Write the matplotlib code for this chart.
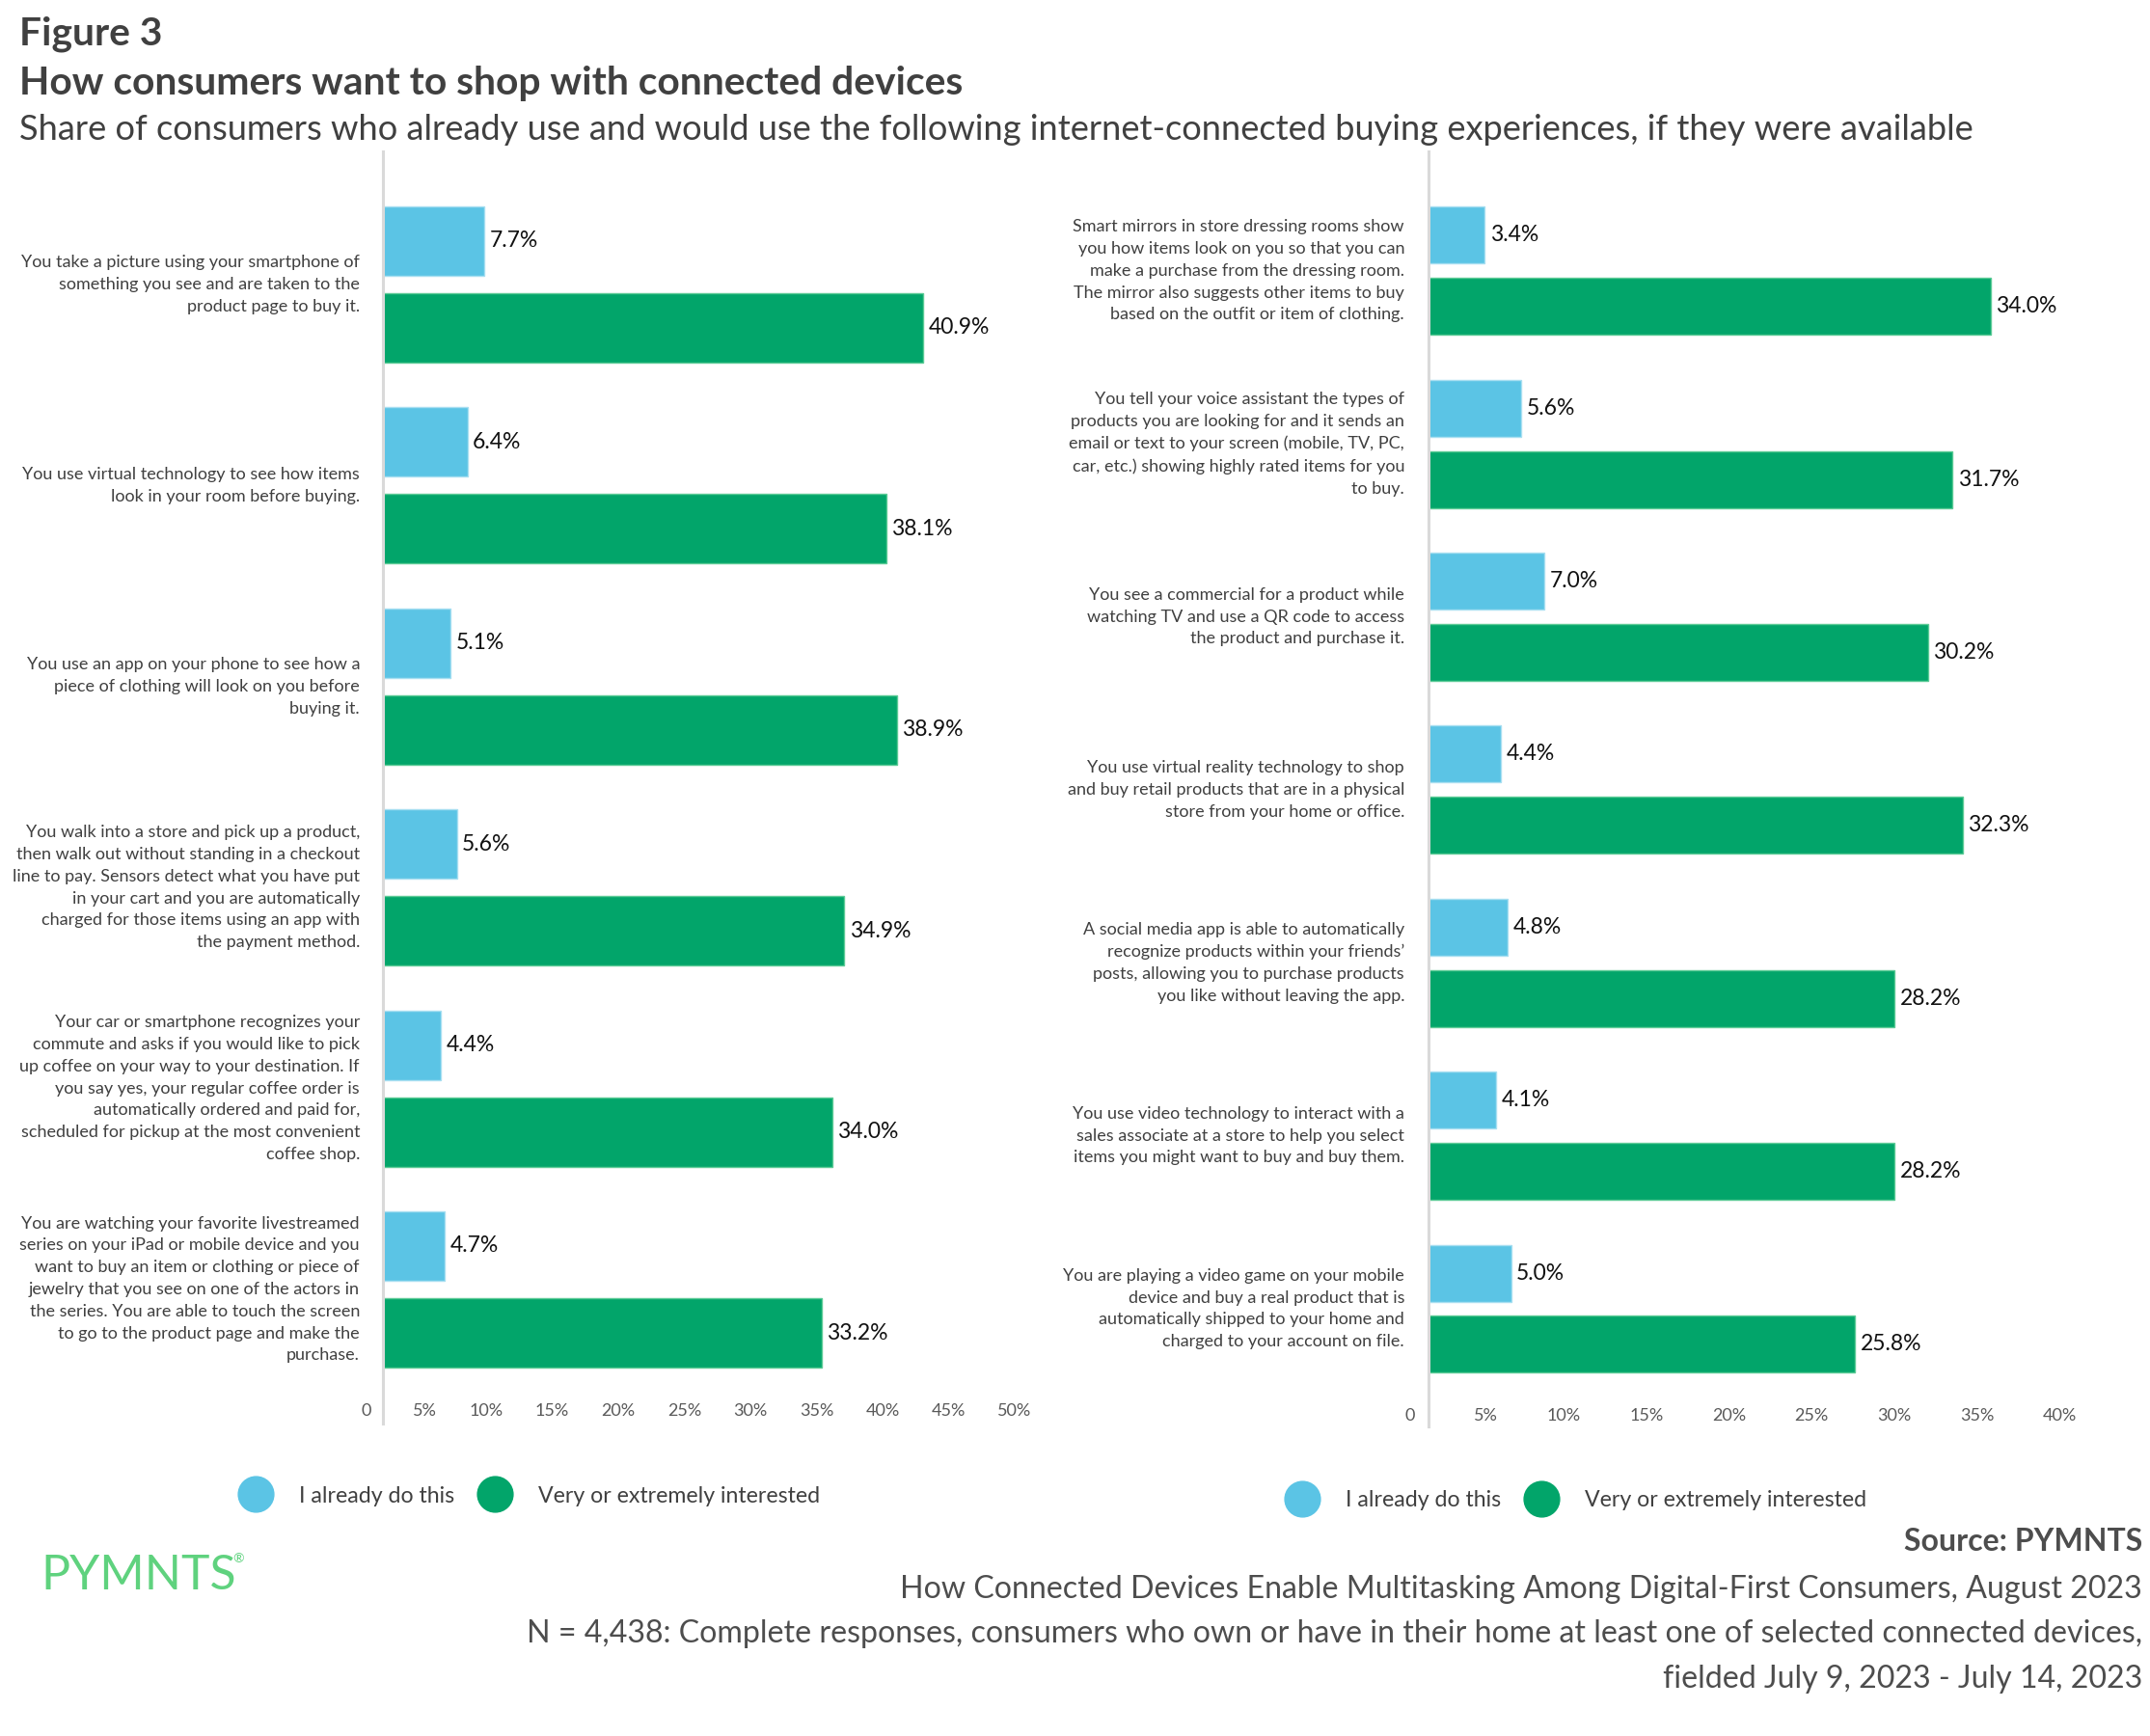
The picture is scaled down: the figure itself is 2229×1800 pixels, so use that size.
import matplotlib
matplotlib.use("Agg")
import matplotlib.pyplot as plt
from matplotlib.lines import Line2D
import numpy as np

plt.rcParams['font.family'] = ['Lato', 'DejaVu Sans']

# ---------------- data ----------------
left_categories = [
    "You take a picture using your smartphone of\nsomething you see and are taken to the\nproduct page to buy it.",
    "You use virtual technology to see how items\nlook in your room before buying.",
    "You use an app on your phone to see how a\npiece of clothing will look on you before\nbuying it.",
    "You walk into a store and pick up a product,\nthen walk out without standing in a checkout\nline to pay. Sensors detect what you have put\nin your cart and you are automatically\ncharged for those items using an app with\nthe payment method.",
    "Your car or smartphone recognizes your\ncommute and asks if you would like to pick\nup coffee on your way to your destination. If\nyou say yes, your regular coffee order is\nautomatically ordered and paid for,\nscheduled for pickup at the most convenient\ncoffee shop.",
    "You are watching your favorite livestreamed\nseries on your iPad or mobile device and you\nwant to buy an item or clothing or piece of\njewelry that you see on one of the actors in\nthe series. You are able to touch the screen\nto go to the product page and make the\npurchase.",
]
left_already = [7.7, 6.4, 5.1, 5.6, 4.4, 4.7]
left_interested = [40.9, 38.1, 38.9, 34.9, 34.0, 33.2]
left_ticks = [0, 5, 10, 15, 20, 25, 30, 35, 40, 45, 50]

right_categories = [
    "Smart mirrors in store dressing rooms show\nyou how items look on you so that you can\nmake a purchase from the dressing room.\nThe mirror also suggests other items to buy\nbased on the outfit or item of clothing.",
    "You tell your voice assistant the types of\nproducts you are looking for and it sends an\nemail or text to your screen (mobile, TV, PC,\ncar, etc.) showing highly rated items for you\nto buy.",
    "You see a commercial for a product while\nwatching TV and use a QR code to access\nthe product and purchase it.",
    "You use virtual reality technology to shop\nand buy retail products that are in a physical\nstore from your home or office.",
    "A social media app is able to automatically\nrecognize products within your friends\u2019\nposts, allowing you to purchase products\nyou like without leaving the app.",
    "You use video technology to interact with a\nsales associate at a store to help you select\nitems you might want to buy and buy them.",
    "You are playing a video game on your mobile\ndevice and buy a real product that is\nautomatically shipped to your home and\ncharged to your account on file.",
]
right_already = [3.4, 5.6, 7.0, 4.4, 4.8, 4.1, 5.0]
right_interested = [34.0, 31.7, 30.2, 32.3, 28.2, 28.2, 25.8]
right_ticks = [0, 5, 10, 15, 20, 25, 30, 35, 40]

series_names = ["I already do this", "Very or extremely interested"]

title_fig = "Figure 3"
title_main = "How consumers want to shop with connected devices"
subtitle = ("Share of consumers who already use and would use the following "
            "internet-connected buying experiences, if they were available")
source_lines = [
    "How Connected Devices Enable Multitasking Among Digital-First Consumers, August 2023",
    "N = 4,438: Complete responses, consumers who own or have in their home at least one of selected connected devices,",
    "fielded July 9, 2023 - July 14, 2023",
]

# ---------------- style ----------------
BLUE = "#5BC4E5"
GREEN = "#02A56A"
BLUE_EDGE = "#A8DFF1"
GREEN_EDGE = "#5CCB96"
TEXT = "#404040"
W, H = 2229, 1800
DPI = 100

fig = plt.figure(figsize=(W / DPI, H / DPI), dpi=DPI)
fig.patch.set_facecolor("white")


def px_axes(x0, y0, x1, y1):
    return fig.add_axes([x0 / W, 1 - y1 / H, (x1 - x0) / W, (y1 - y0) / H])


def draw_panel(ax, cats, a, b, ticks, xmax, ylim, off, bh, tick_y_px, tick_shift,
               cat_off_px, axes_w_px, px_per_unit):
    n = len(cats)
    y = np.arange(n)
    ax.barh(y + off, a, height=bh, color=BLUE, edgecolor=BLUE_EDGE, linewidth=1.0)
    ax.barh(y - off, b, height=bh, color=GREEN, edgecolor=GREEN_EDGE, linewidth=1.0)
    ax.set_xlim(0, xmax)
    ax.set_ylim(*ylim)
    for s in ["top", "right", "bottom"]:
        ax.spines[s].set_visible(False)
    ax.spines["left"].set_color("#D9D9D9")
    ax.spines["left"].set_linewidth(2.2)
    ax.set_xticks([])
    ax.set_yticks([])
    pad = 5.5 / px_per_unit
    for i in range(n):
        ax.text(a[i] + pad, y[i] + off, f"{a[i]:.1f}%", va="center", ha="left",
                fontsize=16.5, color="#111111")
        ax.text(b[i] + pad, y[i] - off, f"{b[i]:.1f}%", va="center", ha="left",
                fontsize=16.5, color="#111111")
        ax.text(-cat_off_px / axes_w_px, y[i], cats[i], transform=ax.get_yaxis_transform(),
                ha="right", va="center", fontsize=13, color=TEXT, linespacing=1.52)
    # tick labels
    tr = matplotlib.transforms.blended_transform_factory(ax.transData, fig.transFigure)
    for t in ticks:
        lab = "0" if t == 0 else f"{t}%"
        ax.text(t - tick_shift, 1 - tick_y_px / H, lab, transform=tr, ha="right",
                va="center", fontsize=13, color="#595959")


# left panel: axis x 397 -> 1082 (0..50), y 157 -> 1476
axL = px_axes(397, 157, 1082, 1476)
draw_panel(axL, left_categories, left_already, left_interested, left_ticks, 50,
           (5.667, -0.662), -0.216, 0.345, 1463, 0.9, 24, 685, 13.7)

# right panel: axis x 1481 -> 2201 (0..42), y 157 -> 1479
axR = px_axes(1481, 157, 2201, 1479)
draw_panel(axR, right_categories, right_already, right_interested, right_ticks, 42,
           (6.68, -0.69), -0.206, 0.329, 1468, 0.8, 25, 720, 17.15)

# legends
handles = [Line2D([0], [0], marker="o", linestyle="none", markersize=26.5,
                  markerfacecolor=BLUE, markeredgecolor=BLUE),
           Line2D([0], [0], marker="o", linestyle="none", markersize=26.5,
                  markerfacecolor=GREEN, markeredgecolor=GREEN)]
for (lx, ly) in [(246, 1551), (1331, 1556)]:
    fig.legend(handles, series_names, loc="center left",
               bbox_to_anchor=(lx / W, 1 - ly / H), ncol=2, frameon=False,
               fontsize=16.7, handlelength=1.65, handletextpad=1.1,
               columnspacing=1.0, borderpad=0, borderaxespad=0,
               labelcolor=TEXT)

# titles
fig.text(20 / W, 1 - 47 / H, title_fig, fontsize=29.3, fontweight="bold", color=TEXT,
         va="baseline", ha="left")
fig.text(20 / W, 1 - 98 / H, title_main, fontsize=29.3, fontweight="bold", color=TEXT,
         va="baseline", ha="left")
fig.text(20 / W, 1 - 145 / H, subtitle, fontsize=26.1, color=TEXT,
         va="baseline", ha="left")

# source
fig.text(2221 / W, 1 - 1608 / H, "Source: PYMNTS", fontsize=23, fontweight="bold",
         color="#4D4D4D", ha="right", va="baseline")
for i, line in enumerate(source_lines):
    fig.text(2221 / W, 1 - [1657, 1703, 1750][i] / H, line, fontsize=23.1,
             color="#4D4D4D", ha="right", va="baseline")

# logo
fig.text(42 / W, 1 - 1648 / H, "PYMNTS", fontsize=36, color="#5FD27E",
         ha="left", va="baseline")
fig.text(241 / W, 1 - 1620 / H, "\u00ae", fontsize=10, color="#5FD27E",
         ha="left", va="baseline")

fig.savefig("out.png", dpi=DPI)
